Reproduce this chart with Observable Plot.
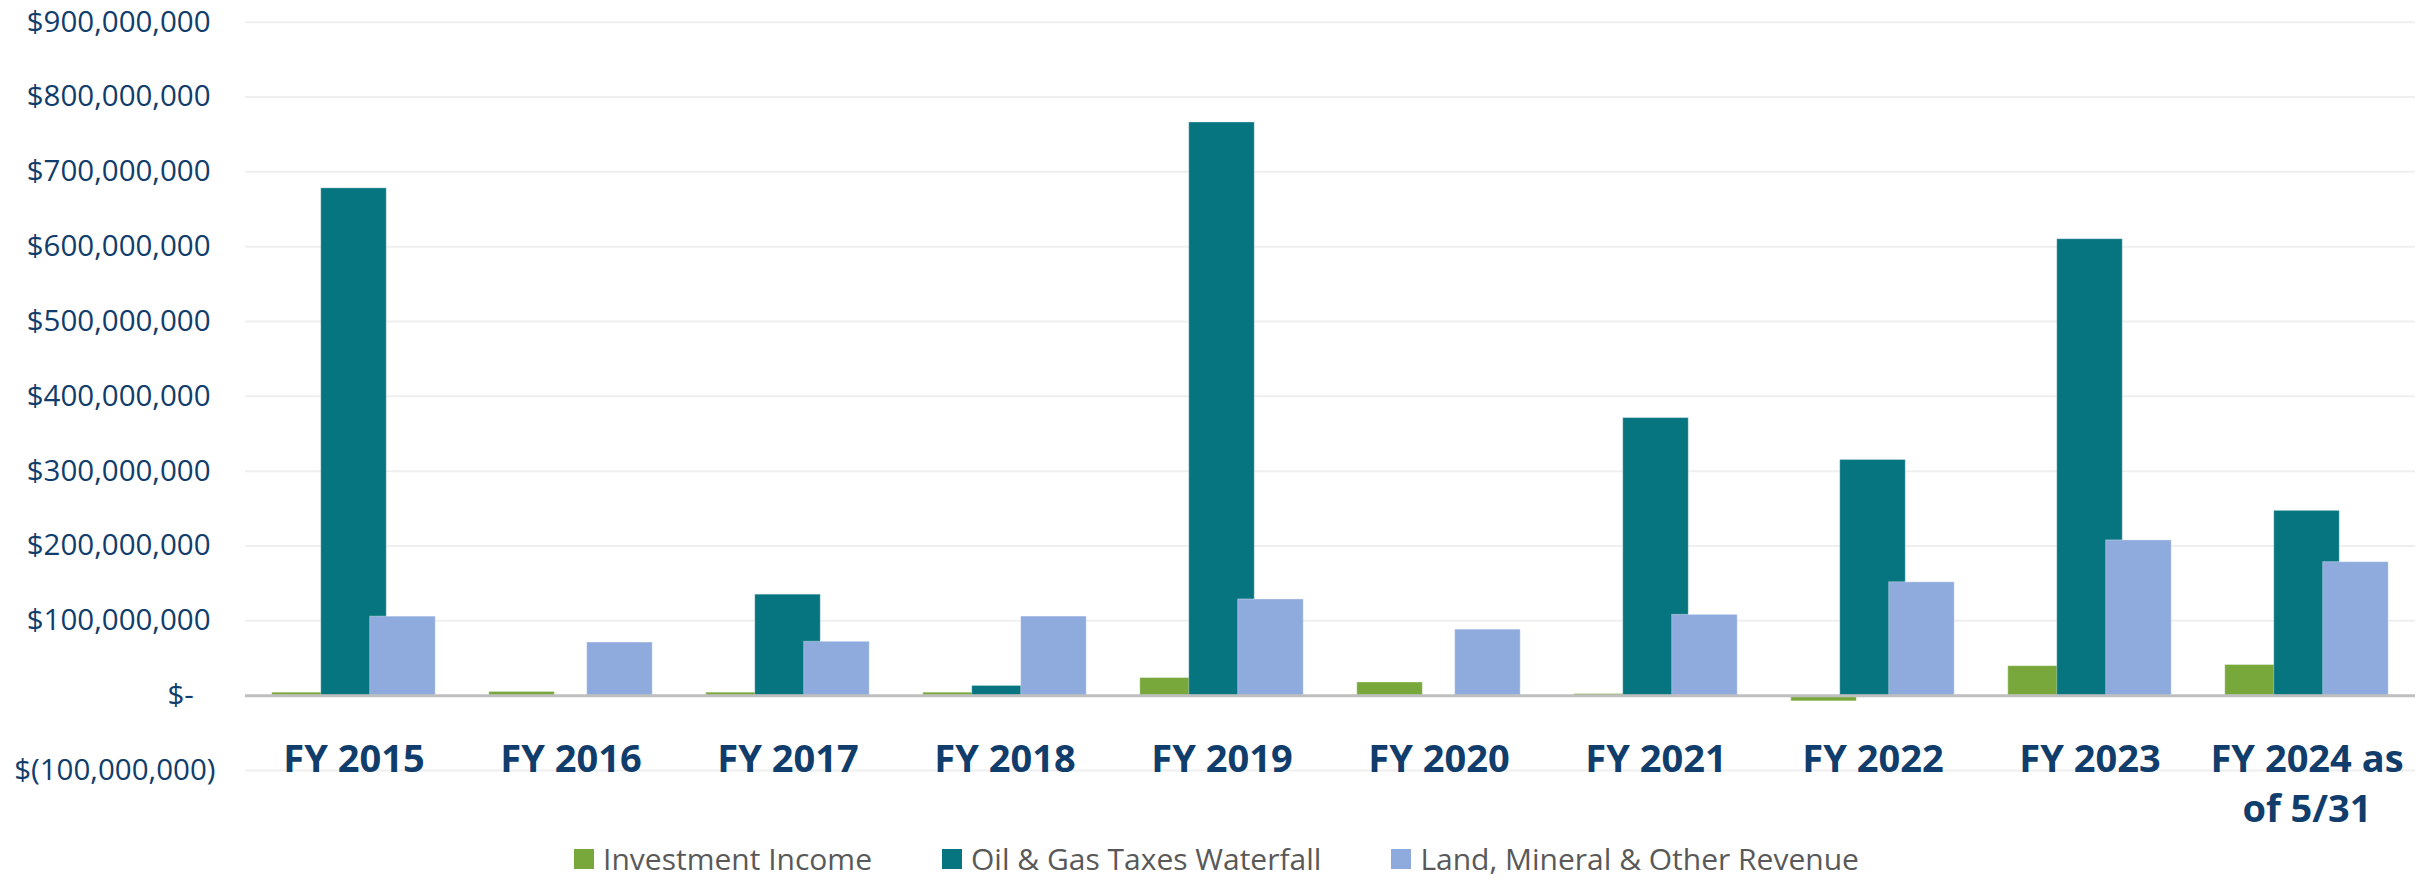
<!DOCTYPE html>
<html>
<head>
<meta charset="utf-8">
<script src="https://cdn.jsdelivr.net/npm/d3@7"></script>
<script src="https://cdn.jsdelivr.net/npm/@observablehq/plot@0.6"></script>
<style>
  html, body { margin: 0; padding: 0; background: #ffffff; }
  #wrap { position: relative; width: 2433px; height: 881px; font-family: "Open Sans", sans-serif; }
  #legend { position: absolute; left: 0; top: 838px; width: 2433px; height: 41px;
            display: flex; justify-content: center; align-items: center; gap: 70px;
            font-size: 30px; line-height: 41px; color: #595959; }
  .item { display: flex; align-items: center; gap: 9px; }
  .sw { width: 20px; height: 20px; }
</style>
</head>
<body>
<div id="wrap">
  <div id="chart"></div>
  <div id="legend"></div>
</div>
<script>
// ---- data ----
const categories = ["FY 2015", "FY 2016", "FY 2017", "FY 2018", "FY 2019", "FY 2020", "FY 2021", "FY 2022", "FY 2023", "FY 2024 as\nof 5/31"];
const seriesNames = ["Investment Income", "Oil & Gas Taxes Waterfall", "Land, Mineral & Other Revenue"];
const investmentIncome = [4e6, 5e6, 4e6, 4e6, 23.6e6, 17.6e6, 2.2e6, -7.6e6, 39.4e6, 41e6];
const oilGasTaxesWaterfall = [678e6, 0, 135e6, 13e6, 766e6, 0, 371e6, 315e6, 610e6, 247e6];
const landMineralOther = [105.6e6, 71e6, 72e6, 105.7e6, 128.6e6, 88.2e6, 108e6, 151.5e6, 207.5e6, 178.4e6];
const yTickValues = [-100e6, 0, 100e6, 200e6, 300e6, 400e6, 500e6, 600e6, 700e6, 800e6, 900e6];
const seriesColors = ["#78a83b", "#067580", "#8faadc"];

// ---- table ----
const seriesValues = [investmentIncome, oilGasTaxesWaterfall, landMineralOther];
const rows = [];
seriesNames.forEach((name, s) => {
  categories.forEach((cat, i) => {
    rows.push({category: cat, series: name, s, value: seriesValues[s][i]});
  });
});

const fmt = d3.format(",");
const tickFormat = v => v > 0 ? "$" + fmt(v) + "\u2009"
                     : v < 0 ? "$(" + fmt(-v) + ")"
                     : "$-\u2007\u2009";

const step = 0.747; // bar overlap like the original (bar width = 1)
const chart = Plot.plot({
  width: 2433,
  height: 835,
  marginLeft: 244,
  marginRight: 17,
  marginTop: 21.7,
  marginBottom: 65,
  style: {fontFamily: '"Open Sans", sans-serif', fontSize: "29.5px", color: "#103d6b", background: "#ffffff", overflow: "visible"},
  fx: {domain: categories, padding: 0, axis: null, label: null},
  x: {domain: [-0.4085, 2.9025], axis: null},
  y: {domain: [-100e6, 900e6], ticks: yTickValues, tickFormat, tickSize: 0, tickPadding: 30, label: null},
  color: {domain: seriesNames, range: seriesColors},
  marks: [
    Plot.ruleY(yTickValues.filter(v => v !== 0), {stroke: "#efefef", strokeWidth: 2}),
    Plot.rect(rows, {
      fx: "category",
      x1: d => d.s * step,
      x2: d => d.s * step + 1,
      y1: 0,
      y2: "value",
      fill: "series",
      stroke: "#ffffff",
      strokeOpacity: 0.35,
      strokeWidth: 1
    }),
    Plot.ruleY([0], {stroke: "#bfbfbf", strokeWidth: 3}),
    Plot.text(categories, {
      fx: d => d,
      y: 0,
      text: d => d,
      dy: 41,
      lineAnchor: "top",
      lineHeight: 1.32,
      fontSize: 38,
      fontWeight: 700,
      fill: "#103d6b"
    })
  ]
});
document.getElementById("chart").appendChild(chart);

// ---- legend ----
const legend = document.getElementById("legend");
seriesNames.forEach((name, i) => {
  const item = document.createElement("div");
  item.className = "item";
  const sw = document.createElement("div");
  sw.className = "sw";
  sw.style.background = seriesColors[i];
  const label = document.createElement("span");
  label.textContent = name;
  item.appendChild(sw);
  item.appendChild(label);
  legend.appendChild(item);
});
</script>
</body>
</html>
